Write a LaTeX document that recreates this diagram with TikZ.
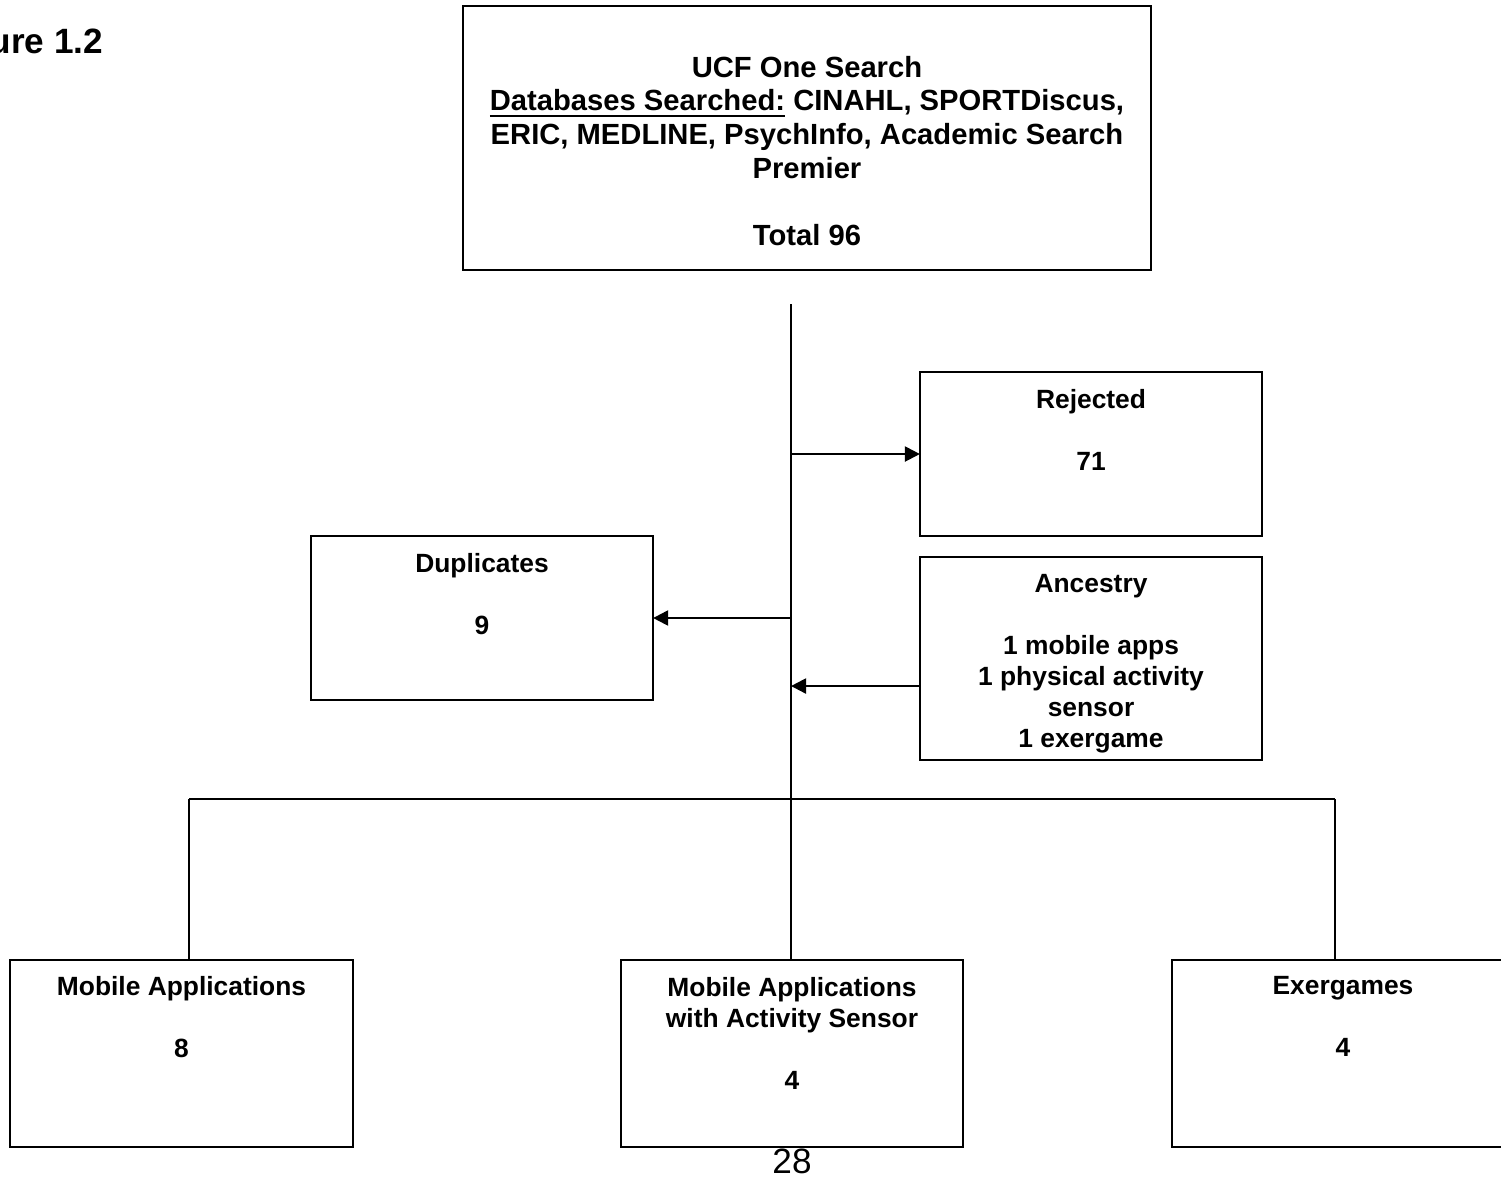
\documentclass[tikz,border=0pt]{standalone}
\usepackage{fontspec}
\setmainfont{Liberation Sans}
\usetikzlibrary{arrows.meta, positioning}

\begin{document}
\begin{tikzpicture}[x=0.01cm, y=-0.01cm, line width=0.6pt,
    box/.style={draw, rectangle, minimum width=3.42cm, minimum height=1.64cm, inner sep=0pt, outer sep=0pt},
    txt/.style={align=center, inner sep=0pt, outer sep=0pt, font=\bfseries\fontsize{7.5}{8.8}\selectfont},
    arr/.style={-{Triangle[length=1.5mm, width=1.5mm]}}]
    \clip (0,0) rectangle (1501,1178);

    \node[box, minimum width=6.88cm, minimum height=2.64cm] at (807,138) (ucf) {};
    \node[box] at (1091,454) (rej) {};
    \node[box] at (482,618) (dup) {};
    \node[box, minimum height=2.03cm] at (1091,658.5) (anc) {};
    \node[box, minimum width=3.43cm, minimum height=1.87cm] at (181.5,1053.5) (mob) {};
    \node[box, minimum height=1.87cm] at (792,1053.5) (mas) {};
    \node[box, minimum height=1.87cm] at (1343,1053.5) (exg) {};

    \node[txt, font=\bfseries\fontsize{8.3}{9.6}\selectfont, below=0.5cm of ucf.north] (ucft)
        {UCF One Search\\ \underline{Databases Searched:} CINAHL, SPORTDiscus,\\ ERIC, MEDLINE, PsychInfo, Academic Search\\ Premier\\[9.6pt] Total 96};
    \node[txt, below=0.175cm of rej.north] (rejt) {Rejected\\[8.8pt] 71};
    \node[txt, below=0.175cm of dup.north] (dupt) {Duplicates\\[8.8pt] 9};
    \node[txt, below=0.175cm of anc.north] (anct) {Ancestry\\[8.8pt] 1 mobile apps\\ 1 physical activity\\ sensor\\ 1 exergame};
    \node[txt, below=0.165cm of mob.north] (mobt) {Mobile Applications\\[8.8pt] 8};
    \node[txt, below=0.175cm of mas.north] (mast) {Mobile Applications\\ with Activity Sensor\\[8.8pt] 4};
    \node[txt, below=0.165cm of exg.north] (exgt) {Exergames\\[8.8pt] 4};

    \node[inner sep=0pt, anchor=base east, font=\bfseries\fontsize{10}{12}\selectfont] at (104,53) (fig) {ure 1.2};
    \node[inner sep=0pt, anchor=base, font=\fontsize{10}{12}\selectfont] at (792,1173) (page) {28};

    \coordinate (top) at (791,304);
    \coordinate (bl) at (189,799);
    \coordinate (br) at (1335,799);
    \coordinate (ancin) at ([yshift=-0.275cm]anc.west);

    \draw (top) -- (top |- mas.north);
    \draw (bl) -- (br);
    \draw (bl) -- (bl |- mob.north);
    \draw (br) -- (br |- exg.north);
    \draw[arr] (top |- rej.west) -- (rej.west);
    \draw[arr] (top |- dup.east) -- (dup.east);
    \draw[arr] (ancin) -- (top |- ancin);
\end{tikzpicture}
\end{document}
